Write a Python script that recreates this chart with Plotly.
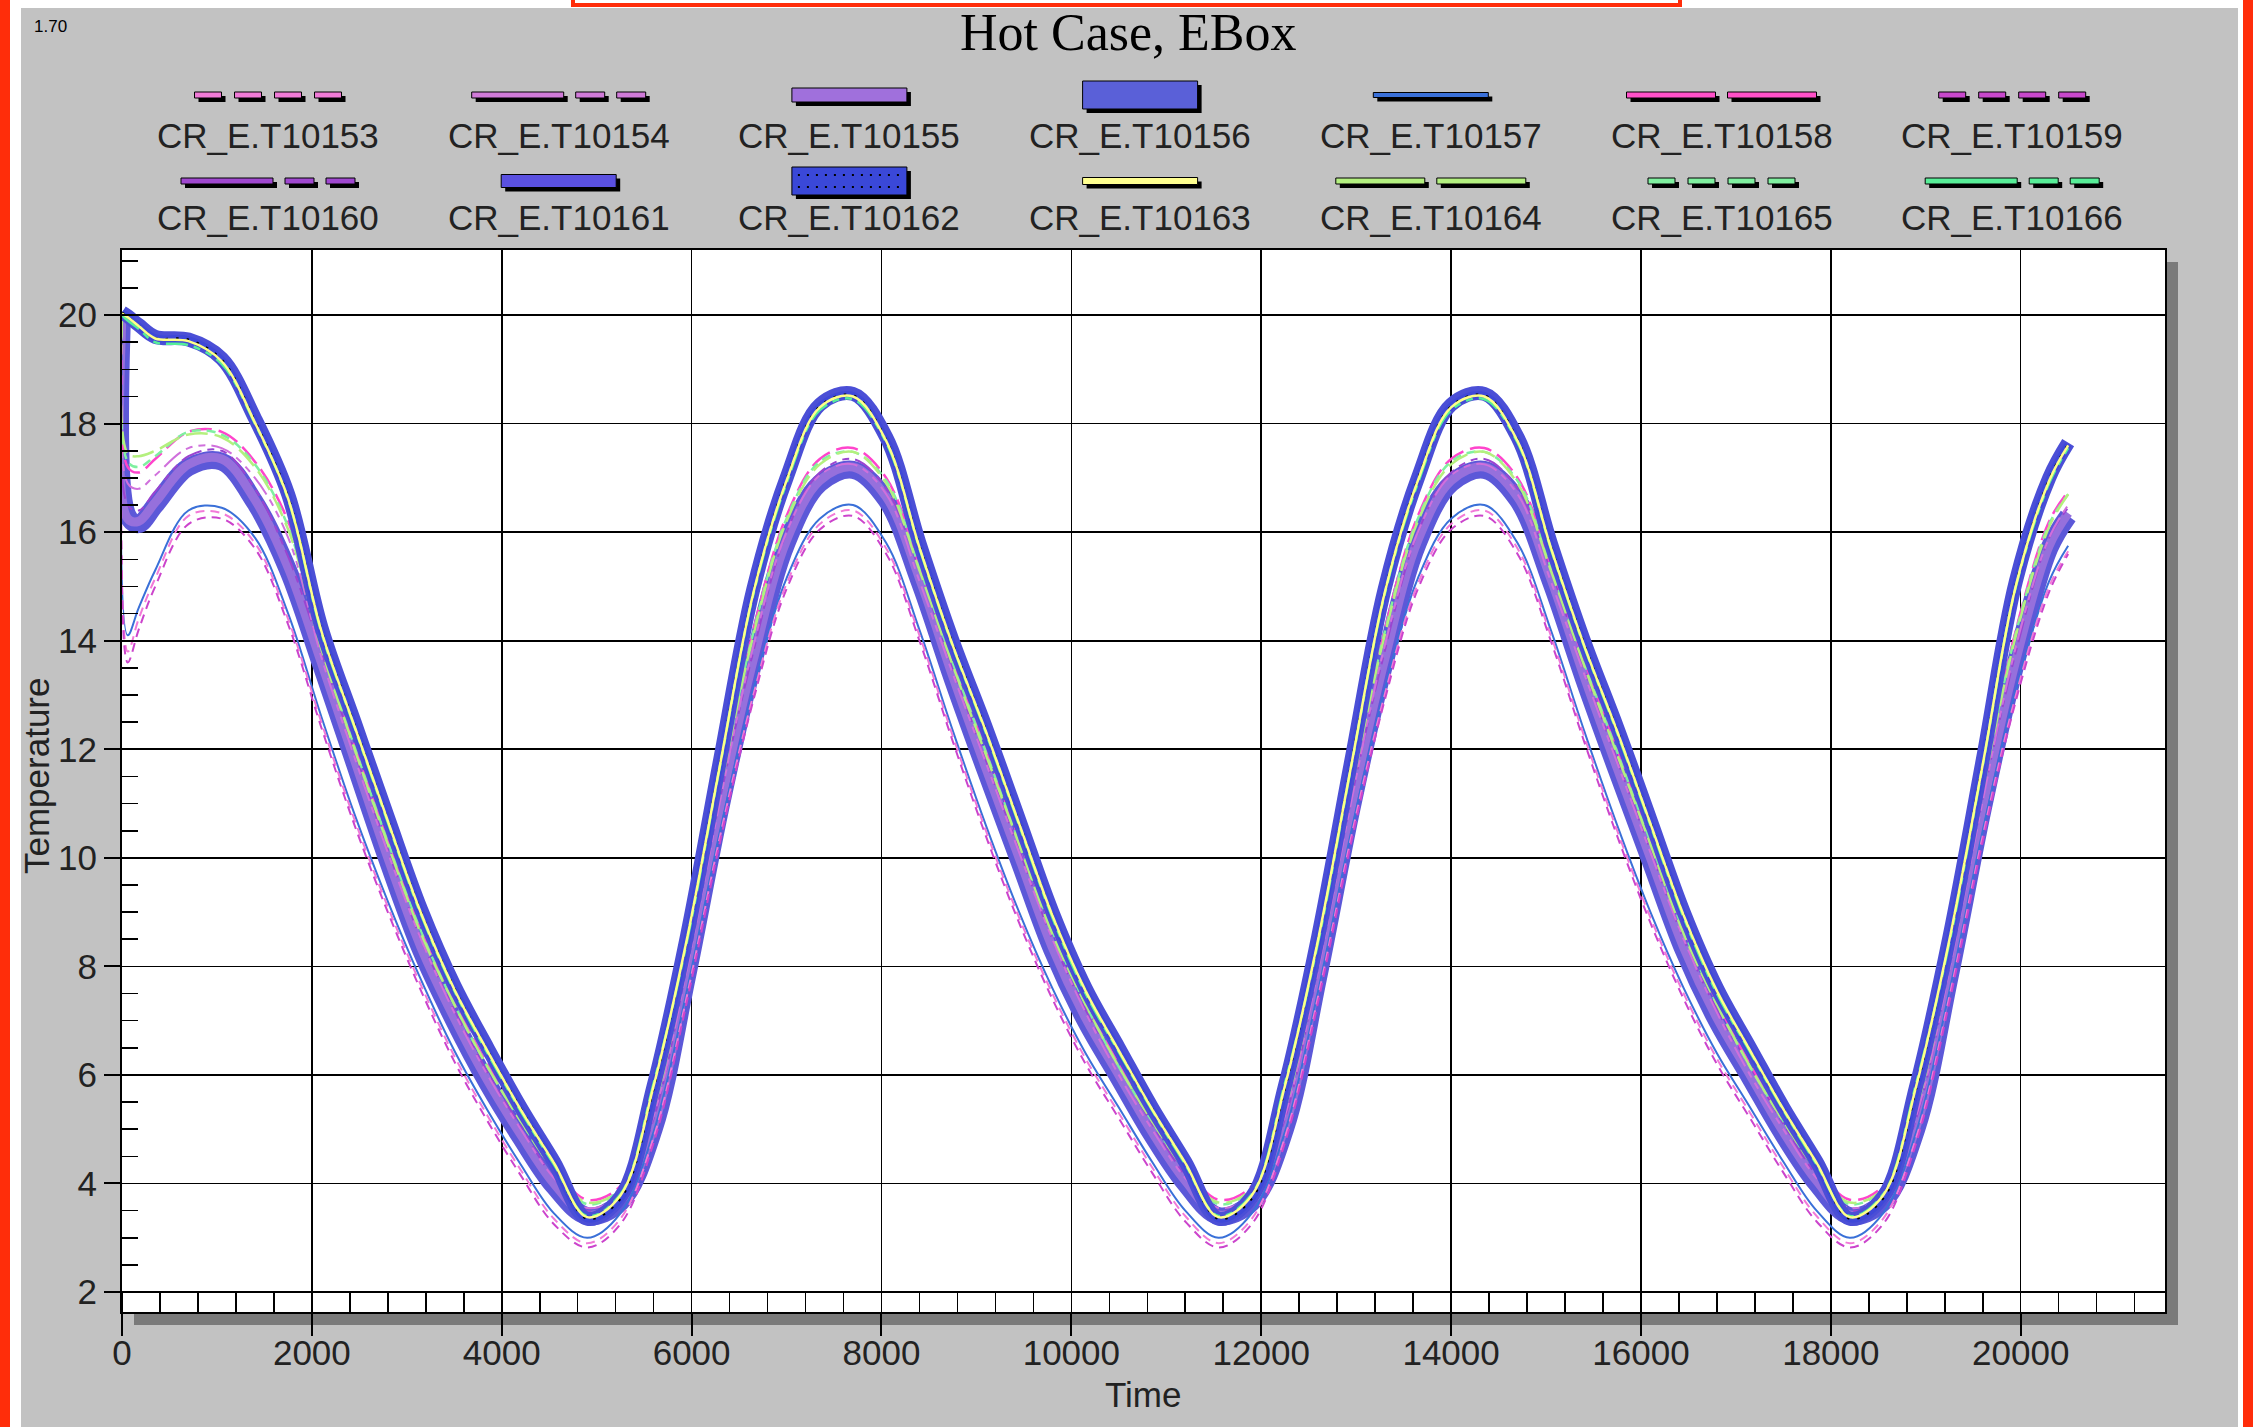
import plotly.graph_objects as go

# ---------------- data ----------------
time_s = [0, 60, 175, 350, 700, 1050, 1400, 1750, 2100, 2450, 2800, 3150, 3500, 3850, 4200, 4550, 4900,
          5250, 5600, 5950, 6300, 6650, 7000, 7350, 7700, 8050, 8400, 8750, 9100, 9450, 9800, 10150, 10500, 10850, 11200, 11550,
          11900, 12250, 12600, 12950, 13300, 13650, 14000, 14350, 14700, 15050, 15400, 15750, 16100, 16450, 16800, 17150, 17500, 17850, 18200,
          18550, 18900, 19250, 19600, 19950, 20300, 20500]

T10153 = ([20.0, 13.8, 14.4, 15.15, 16.3, 16.35, 15.8, 14.4, 12.5, 10.7, 9.1, 7.65, 6.35, 5.25, 4.25, 3.35, 2.9]
          + [3.35, 4.85, 7.45, 10.4, 13.0, 15.05, 16.15, 16.4, 15.7, 14.1, 12.25, 10.5, 8.9, 7.5, 6.3, 5.3, 4.3, 3.4, 2.9]
          + [3.35, 4.85, 7.45, 10.4, 13.0, 15.05, 16.15, 16.4, 15.7, 14.1, 12.25, 10.5, 8.9, 7.5, 6.3, 5.3, 4.3, 3.4, 2.9]
          + [3.35, 4.85, 7.45, 10.4, 13.0, 15.0, 15.65])
T10154 = ([20.0, 16.9, 16.8, 17.05, 17.55, 17.55, 17.0, 15.9, 13.7, 11.85, 10.1, 8.5, 7.15, 6.0, 5.0, 4.1, 3.55]
          + [3.8, 5.25, 7.95, 11.05, 13.9, 16.0, 17.05, 17.25, 16.7, 15.1, 13.4, 11.75, 10.1, 8.5, 7.15, 6.0, 5.0, 4.1, 3.55]
          + [3.8, 5.25, 7.95, 11.05, 13.9, 16.0, 17.05, 17.25, 16.7, 15.1, 13.4, 11.75, 10.1, 8.5, 7.15, 6.0, 5.0, 4.1, 3.55]
          + [3.8, 5.25, 7.95, 11.05, 13.9, 15.9, 16.5])
T10155 = ([20.0, 16.25, 16.2, 16.55, 17.25, 17.35, 16.6, 15.35, 13.6, 11.8, 10.0, 8.35, 7.05, 5.9, 4.9, 4.0, 3.42]
          + [3.68, 5.05, 7.85, 10.95, 13.65, 15.85, 16.95, 17.2, 16.65, 15.15, 13.35, 11.65, 10.0, 8.35, 7.05, 6.0, 4.95, 4.05, 3.42]
          + [3.68, 5.05, 7.85, 10.95, 13.65, 15.85, 16.95, 17.2, 16.65, 15.15, 13.35, 11.65, 10.0, 8.35, 7.05, 6.0, 4.95, 4.05, 3.42]
          + [3.68, 5.05, 7.85, 10.95, 13.65, 15.75, 16.35])
T10156 = ([20.05, 19.98, 19.82, 19.6, 19.55, 19.2, 18.1, 16.7, 14.25, 12.5, 10.75, 9.05, 7.65, 6.5, 5.4, 4.4, 3.35]
          + [3.75, 5.8, 8.55, 11.8, 14.95, 17.0, 18.35, 18.55, 17.75, 15.8, 14.0, 12.4, 10.7, 9.0, 7.6, 6.5, 5.4, 4.4, 3.35]
          + [3.75, 5.8, 8.55, 11.8, 14.95, 17.0, 18.35, 18.55, 17.75, 15.8, 14.0, 12.4, 10.7, 9.0, 7.6, 6.5, 5.4, 4.4, 3.35]
          + [3.75, 5.8, 8.55, 11.8, 15.1, 17.0, 17.65])
T10157 = ([20.0, 14.1, 14.6, 15.3, 16.4, 16.45, 15.9, 14.5, 12.6, 10.8, 9.2, 7.75, 6.45, 5.35, 4.35, 3.45, 3.0]
          + [3.45, 4.95, 7.55, 10.5, 13.1, 15.15, 16.25, 16.5, 15.8, 14.2, 12.35, 10.6, 9.0, 7.6, 6.4, 5.4, 4.4, 3.5, 3.0]
          + [3.45, 4.95, 7.55, 10.5, 13.1, 15.15, 16.25, 16.5, 15.8, 14.2, 12.35, 10.6, 9.0, 7.6, 6.4, 5.4, 4.4, 3.5, 3.0]
          + [3.45, 4.95, 7.55, 10.5, 13.1, 15.1, 15.75])
T10158 = ([20.0, 17.2, 17.1, 17.35, 17.85, 17.85, 17.3, 16.2, 13.95, 12.1, 10.35, 8.7, 7.35, 6.2, 5.2, 4.3, 3.7]
          + [3.95, 5.45, 8.2, 11.35, 14.2, 16.3, 17.35, 17.55, 17.0, 15.4, 13.65, 12.0, 10.35, 8.7, 7.35, 6.2, 5.2, 4.3, 3.7]
          + [3.95, 5.45, 8.2, 11.35, 14.2, 16.3, 17.35, 17.55, 17.0, 15.4, 13.65, 12.0, 10.35, 8.7, 7.35, 6.2, 5.2, 4.3, 3.7]
          + [3.95, 5.45, 8.2, 11.35, 14.2, 16.2, 16.75])
T10159 = ([20.0, 13.6, 14.2, 15.0, 16.15, 16.25, 15.7, 14.3, 12.4, 10.6, 9.0, 7.55, 6.25, 5.15, 4.15, 3.25, 2.82]
          + [3.25, 4.75, 7.35, 10.3, 12.9, 14.95, 16.05, 16.3, 15.6, 14.0, 12.15, 10.4, 8.8, 7.4, 6.2, 5.2, 4.2, 3.3, 2.82]
          + [3.25, 4.75, 7.35, 10.3, 12.9, 14.95, 16.05, 16.3, 15.6, 14.0, 12.15, 10.4, 8.8, 7.4, 6.2, 5.2, 4.2, 3.3, 2.82]
          + [3.25, 4.75, 7.35, 10.3, 12.9, 14.9, 15.6])
T10160 = ([20.0, 16.5, 16.4, 16.75, 17.4, 17.5, 16.8, 15.55, 13.8, 11.95, 10.15, 8.5, 7.2, 6.05, 5.05, 4.1, 3.5]
          + [3.75, 5.2, 8.0, 11.1, 13.8, 16.0, 17.1, 17.35, 16.8, 15.3, 13.5, 11.8, 10.15, 8.5, 7.2, 6.15, 5.1, 4.15, 3.5]
          + [3.75, 5.2, 8.0, 11.1, 13.8, 16.0, 17.1, 17.35, 16.8, 15.3, 13.5, 11.8, 10.15, 8.5, 7.2, 6.15, 5.1, 4.15, 3.5]
          + [3.75, 5.2, 8.0, 11.1, 13.8, 15.9, 16.45])
T10161 = ([20.0, 16.3, 16.15, 16.5, 17.2, 17.3, 16.55, 15.3, 13.55, 11.75, 9.95, 8.3, 7.0, 5.85, 4.85, 3.95, 3.4]
          + [3.65, 5.0, 7.8, 10.9, 13.6, 15.8, 16.9, 17.15, 16.6, 15.1, 13.3, 11.6, 9.95, 8.3, 7.0, 5.95, 4.9, 4.0, 3.4]
          + [3.65, 5.0, 7.8, 10.9, 13.6, 15.8, 16.9, 17.15, 16.6, 15.1, 13.3, 11.6, 9.95, 8.3, 7.0, 5.95, 4.9, 4.0, 3.4]
          + [3.65, 5.0, 7.8, 10.9, 13.6, 15.7, 16.3])
T10162 = ([20.05, 19.97, 19.8, 19.58, 19.55, 19.18, 18.05, 16.65, 14.2, 12.45, 10.7, 9.0, 7.6, 6.45, 5.38, 4.38, 3.35]
          + [3.72, 5.75, 8.5, 11.75, 14.9, 16.98, 18.32, 18.52, 17.7, 15.75, 13.95, 12.35, 10.65, 8.95, 7.55, 6.45, 5.38, 4.38, 3.35]
          + [3.72, 5.75, 8.5, 11.75, 14.9, 16.98, 18.32, 18.52, 17.7, 15.75, 13.95, 12.35, 10.65, 8.95, 7.55, 6.45, 5.38, 4.38, 3.35]
          + [3.72, 5.75, 8.5, 11.75, 15.05, 16.98, 17.62])
T10163 = ([20.03, 19.96, 19.8, 19.57, 19.52, 19.15, 18.02, 16.62, 14.18, 12.42, 10.68, 8.98, 7.58, 6.44, 5.36, 4.38, 3.38]
          + [3.78, 5.8, 8.5, 11.72, 14.88, 16.95, 18.3, 18.5, 17.68, 15.72, 13.92, 12.33, 10.63, 8.94, 7.55, 6.45, 5.37, 4.38, 3.38]
          + [3.78, 5.8, 8.5, 11.72, 14.88, 16.95, 18.3, 18.5, 17.68, 15.72, 13.92, 12.33, 10.63, 8.94, 7.55, 6.45, 5.37, 4.38, 3.38]
          + [3.78, 5.8, 8.5, 11.72, 15.02, 16.95, 17.6])
T10164 = ([20.0, 17.45, 17.4, 17.5, 17.8, 17.75, 17.2, 16.05, 13.85, 12.0, 10.25, 8.6, 7.3, 6.15, 5.15, 4.25, 3.65]
          + [3.9, 5.4, 8.1, 11.25, 14.1, 16.2, 17.25, 17.48, 16.9, 15.3, 13.55, 11.9, 10.25, 8.6, 7.3, 6.15, 5.15, 4.25, 3.65]
          + [3.9, 5.4, 8.1, 11.25, 14.1, 16.2, 17.25, 17.48, 16.9, 15.3, 13.55, 11.9, 10.25, 8.6, 7.3, 6.15, 5.15, 4.25, 3.65]
          + [3.9, 5.4, 8.1, 11.25, 14.1, 16.1, 16.7])
T10165 = ([20.0, 17.3, 17.2, 17.4, 17.85, 17.8, 17.25, 16.1, 13.9, 12.05, 10.3, 8.65, 7.3, 6.15, 5.15, 4.25, 3.62]
          + [3.9, 5.4, 8.15, 11.3, 14.15, 16.25, 17.3, 17.48, 16.95, 15.35, 13.6, 11.95, 10.3, 8.65, 7.3, 6.15, 5.15, 4.25, 3.62]
          + [3.9, 5.4, 8.15, 11.3, 14.15, 16.25, 17.3, 17.48, 16.95, 15.35, 13.6, 11.95, 10.3, 8.65, 7.3, 6.15, 5.15, 4.25, 3.62]
          + [3.9, 5.4, 8.15, 11.3, 14.15, 16.15, 16.7])
T10166 = ([20.0, 19.9, 19.75, 19.5, 19.45, 19.1, 18.0, 16.6, 14.15, 12.4, 10.65, 8.95, 7.55, 6.4, 5.33, 4.35, 3.4]
          + [3.8, 5.85, 8.45, 11.7, 14.85, 16.9, 18.25, 18.45, 17.65, 15.7, 13.9, 12.3, 10.6, 8.9, 7.5, 6.42, 5.35, 4.35, 3.4]
          + [3.8, 5.85, 8.45, 11.7, 14.85, 16.9, 18.25, 18.45, 17.65, 15.7, 13.9, 12.3, 10.6, 8.9, 7.5, 6.42, 5.35, 4.35, 3.4]
          + [3.8, 5.85, 8.45, 11.7, 15.0, 16.9, 17.55])

series_names = ["CR_E.T10153", "CR_E.T10154", "CR_E.T10155", "CR_E.T10156", "CR_E.T10157", "CR_E.T10158", "CR_E.T10159",
                "CR_E.T10160", "CR_E.T10161", "CR_E.T10162", "CR_E.T10163", "CR_E.T10164", "CR_E.T10165", "CR_E.T10166"]
series_values = [T10153, T10154, T10155, T10156, T10157, T10158, T10159,
                 T10160, T10161, T10162, T10163, T10164, T10165, T10166]
x_ticks = [0, 2000, 4000, 6000, 8000, 10000, 12000, 14000, 16000, 18000, 20000]
y_ticks = [2, 4, 6, 8, 10, 12, 14, 16, 18, 20]

for n, v in zip(series_names, series_values):
    assert len(v) == len(time_s), (n, len(v))
series = dict(zip(series_names, series_values))

# ---------------- geometry ----------------
W, H = 2253, 1427
ML, MR, MT, MB = 122, 88, 250, 115
PW, PH = W - ML - MR, H - MT - MB


def fx(p):
    return (p - ML) / PW


def fy(p):
    return (H - MB - p) / PH


SANS = "Liberation Sans, Arial, sans-serif"
SERIF = "Liberation Serif, Times New Roman, serif"

SD = "9px,6px"
LD = "22px,7px"
LSS = "22px,6px,7px,6px,7px,6px"

line_styles = {
    "CR_E.T10153": dict(color="#f27ad8", width=2, dash=SD),
    "CR_E.T10154": dict(color="#d070dc", width=2, dash=LSS),
    "CR_E.T10155": dict(color="#9670dc", width=9),
    "CR_E.T10156": dict(color="#4b4fd6", width=14),
    "CR_E.T10157": dict(color="#3a70d8", width=2),
    "CR_E.T10158": dict(color="#ff44cc", width=2.5, dash=LD),
    "CR_E.T10159": dict(color="#cc44cc", width=2, dash=SD),
    "CR_E.T10160": dict(color="#9a44d0", width=2, dash=LSS),
    "CR_E.T10161": dict(color="#5c58d8", width=18),
    "CR_E.T10162": dict(color="#3f48d8", width=7),
    "CR_E.T10163": dict(color="#ffff88", width=2.5),
    "CR_E.T10164": dict(color="#b4f07e", width=2.5, dash=LD),
    "CR_E.T10165": dict(color="#7ff0a0", width=2.5, dash=SD),
    "CR_E.T10166": dict(color="#55ee99", width=2.5, dash=LSS),
}

draw_order = ["CR_E.T10161", "CR_E.T10155", "CR_E.T10160", "CR_E.T10157", "CR_E.T10153", "CR_E.T10159",
              "CR_E.T10154", "CR_E.T10158", "CR_E.T10165", "CR_E.T10164", "CR_E.T10156", "CR_E.T10162",
              "CR_E.T10166", "CR_E.T10163"]

SMOOTH = 1.0
fig = go.Figure()
for name in draw_order:
    fig.add_trace(go.Scatter(x=time_s, y=series[name], mode="lines", name=name,
                             line=dict(shape="spline", smoothing=SMOOTH, **line_styles[name]),
                             showlegend=False, hoverinfo="skip"))
    if name == "CR_E.T10162":
        fig.add_trace(go.Scatter(x=time_s, y=series[name], mode="lines", name=name + " dots",
                                 line=dict(shape="spline", smoothing=SMOOTH, color="black", width=2.2, dash="2.5px,8px"),
                                 showlegend=False, hoverinfo="skip"))

# ---------------- legend (custom: sample above label) ----------------
PAT_SD = [(0, 27), (40, 27), (80, 27), (120, 27)]
PAT_LD = [(0, 89), (101, 89)]
PAT_LSS = [(0, 92), (104, 29), (145, 29)]
PAT_SOL = [(0, 115)]

legend_swatch = {
    "CR_E.T10153": (PAT_SD, 6, "#f07ad6"),
    "CR_E.T10154": (PAT_LSS, 6, "#d07ad8"),
    "CR_E.T10155": (PAT_SOL, 14, "#a070dc"),
    "CR_E.T10156": (PAT_SOL, 28, "#5a60d8"),
    "CR_E.T10157": (PAT_SOL, 5, "#3a70d8"),
    "CR_E.T10158": (PAT_LD, 6, "#ff50c8"),
    "CR_E.T10159": (PAT_SD, 6, "#c848cc"),
    "CR_E.T10160": (PAT_LSS, 6, "#a048d0"),
    "CR_E.T10161": (PAT_SOL, 13, "#5a50e0"),
    "CR_E.T10162": (PAT_SOL, 28, "#3a48d8"),
    "CR_E.T10163": (PAT_SOL, 7, "#ffff90"),
    "CR_E.T10164": (PAT_LD, 6, "#b4f080"),
    "CR_E.T10165": (PAT_SD, 6, "#80f0a0"),
    "CR_E.T10166": (PAT_LSS, 6, "#58ee98"),
}

shapes = []
annotations = []

# page frame
frame = [
    (0, 0, W, 8, "white"),
    (10, 0, 21, H, "white"),
    (2238, 0, 2243, H, "white"),
    (0, 0, 10, H, "#ff2d0a"),
    (2243, 0, W, H, "#ff2d0a"),
]
for x0, y0, x1, y1, c in frame:
    shapes.append(dict(type="rect", xref="paper", yref="paper", x0=fx(x0), x1=fx(x1), y0=fy(y0), y1=fy(y1),
                       fillcolor=c, line=dict(width=0), layer="below"))
shapes.append(dict(type="rect", xref="paper", yref="paper", x0=fx(573), x1=fx(1680), y0=fy(-20), y1=fy(5),
                   fillcolor="white", line=dict(color="#ff2d0a", width=4), layer="below"))
# plot shadow
for x0, y0, x1, y1 in [(2165, 262, 2178, 1325), (134, 1312, 2178, 1325)]:
    shapes.append(dict(type="rect", xref="paper", yref="paper", x0=fx(x0), x1=fx(x1), y0=fy(y0), y1=fy(y1),
                       fillcolor="#7a7a7a", line=dict(width=0), layer="below"))

col_x = [268 + i * 290.7 for i in range(7)]
row_label_y = [135, 218]
row_swatch_y = [95, 181]
for i, name in enumerate(series_names):
    r, c = divmod(i, 7)
    cx, cy = col_x[c], row_swatch_y[r]
    pat, h, col = legend_swatch[name]
    total = pat[-1][0] + pat[-1][1]
    x0 = cx - total / 2
    for s, l in pat:
        a, b = x0 + s, x0 + s + l
        shapes.append(dict(type="rect", xref="paper", yref="paper", x0=fx(a + 4), x1=fx(b + 4),
                           y0=fy(cy - h / 2 + 4), y1=fy(cy + h / 2 + 4), fillcolor="black",
                           line=dict(width=0), layer="above"))
        shapes.append(dict(type="rect", xref="paper", yref="paper", x0=fx(a), x1=fx(b),
                           y0=fy(cy - h / 2), y1=fy(cy + h / 2), fillcolor=col,
                           line=dict(color="black", width=1), layer="above"))
    if name == "CR_E.T10162":
        for dy in (-6, 6):
            shapes.append(dict(type="line", xref="paper", yref="paper", x0=fx(x0 + 6), x1=fx(x0 + total - 4),
                               y0=fy(cy + dy), y1=fy(cy + dy), line=dict(color="black", width=2, dash="2px,7px"),
                               layer="above"))
    annotations.append(dict(text=name, xref="paper", yref="paper", x=fx(cx), y=fy(row_label_y[r]),
                            xanchor="center", yanchor="middle", showarrow=False,
                            font=dict(family=SANS, size=35, color="#222222")))

annotations += [
    dict(text="Hot Case, EBox", xref="paper", yref="paper", x=fx(1128), y=fy(32), xanchor="center",
         yanchor="middle", showarrow=False, font=dict(family=SERIF, size=52, color="black")),
    dict(text="1.70", xref="paper", yref="paper", x=fx(50), y=fy(26), xanchor="center",
         yanchor="middle", showarrow=False, font=dict(family=SANS, size=17, color="black")),
    dict(text="Time", xref="paper", yref="paper", x=fx(1143), y=fy(1394), xanchor="center",
         yanchor="middle", showarrow=False, font=dict(family=SANS, size=35, color="#222222")),
    dict(text="Temperature", xref="paper", yref="paper", x=fx(36), y=fy(776), xanchor="center",
         yanchor="middle", showarrow=False, textangle=-90, font=dict(family=SANS, size=35, color="#222222")),
]

tickfont = dict(family=SANS, size=35, color="#222222")
fig.update_xaxes(range=[0, 21520], tickmode="array", tickvals=x_ticks, ticktext=[str(v) for v in x_ticks],
                 showgrid=True, gridcolor="black", gridwidth=1.6, zeroline=False,
                 showline=True, linecolor="black", linewidth=2, mirror=True,
                 ticks="outside", ticklen=22, tickwidth=2, tickcolor="black", tickfont=tickfont,
                 ticklabelstandoff=-13,
                 minor=dict(ticks="inside", tickmode="linear", tick0=0, dtick=400, ticklen=19, tickwidth=1.6,
                            tickcolor="black", showgrid=False))
fig.update_yaxes(range=[1.632, 21.2], tickmode="array", tickvals=y_ticks, ticktext=[str(v) for v in y_ticks],
                 showgrid=True, gridcolor="black", gridwidth=1.6, zeroline=False,
                 showline=True, linecolor="black", linewidth=2, mirror=True,
                 ticks="outside", ticklen=16, tickwidth=2, tickcolor="black", tickfont=tickfont,
                 minor=dict(ticks="inside", tickmode="linear", tick0=0, dtick=0.5, ticklen=16, tickwidth=1.6,
                            tickcolor="black", showgrid=False))

fig.update_layout(width=W, height=H, autosize=False,
                  margin=dict(l=ML, r=MR, t=MT, b=MB, pad=0),
                  paper_bgcolor="#c2c2c2", plot_bgcolor="white",
                  shapes=shapes, annotations=annotations, showlegend=False, hovermode=False,
                  font=dict(family=SANS, color="#222222"))

fig.write_html("out.html", config={"displayModeBar": False, "staticPlot": True},
               post_script="document.body.style.margin='0';document.body.style.overflow='hidden';")
